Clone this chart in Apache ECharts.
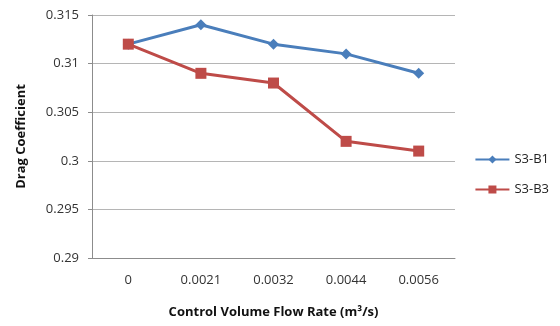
<!DOCTYPE html>
<html>
<head>
<meta charset="utf-8">
<script src="https://cdn.jsdelivr.net/npm/echarts@6/dist/echarts.min.js"></script>
<style>
html,body{margin:0;padding:0;background:#fff;}
#main{width:560px;height:326px;}
</style>
</head>
<body>
<div id="main"></div>
<script>
var flowRates = ['0', '0.0021', '0.0032', '0.0044', '0.0056'];
var s3b1 = [0.312, 0.314, 0.312, 0.311, 0.309];
var s3b3 = [0.312, 0.309, 0.308, 0.302, 0.301];

var font = 'Open Sans, Liberation Sans, sans-serif';

var option = {
	animation: false,
	backgroundColor: '#fff',
	grid: { left: 92, right: 105, top: 15, bottom: 68 },
	legend: {
		orient: 'vertical',
		right: 6,
		top: 148,
		itemGap: 17,
		itemWidth: 34,
		itemHeight: 10,
		textStyle: { fontFamily: font, fontSize: 13, color: '#222' },
		data: ['S3-B1', 'S3-B3']
	},
	xAxis: {
		type: 'category',
		data: flowRates,
		boundaryGap: true,
		name: 'Control Volume Flow Rate (m³/s)',
		nameLocation: 'middle',
		nameGap: 48,
		nameTextStyle: { fontFamily: font, fontSize: 13, fontWeight: 'bold', color: '#111' },
		axisLine: { lineStyle: { color: '#8c8c8c' } },
		axisTick: { show: false },
		axisLabel: { fontFamily: font, fontSize: 13, color: '#333', margin: 16 },
		splitLine: { show: false }
	},
	yAxis: {
		type: 'value',
		min: 0.29,
		max: 0.315,
		interval: 0.005,
		name: 'Drag Coefficient',
		nameLocation: 'middle',
		nameGap: 64,
		nameTextStyle: { fontFamily: font, fontSize: 13, fontWeight: 'bold', color: '#111' },
		axisLine: { show: true, lineStyle: { color: '#8c8c8c' } },
		axisTick: { show: true, length: 4, lineStyle: { color: '#8c8c8c' } },
		axisLabel: { fontFamily: font, fontSize: 13, color: '#333', margin: 13 },
		splitLine: { lineStyle: { color: '#b5b5b5' } }
	},
	series: [
		{
			name: 'S3-B1',
			type: 'line',
			data: s3b1,
			symbol: 'diamond',
			symbolSize: 11,
			lineStyle: { width: 3, color: '#4a7ebb' },
			itemStyle: { color: '#4a7ebb' }
		},
		{
			name: 'S3-B3',
			type: 'line',
			data: s3b3,
			symbol: 'rect',
			symbolSize: 11,
			lineStyle: { width: 3, color: '#be4b48' },
			itemStyle: { color: '#be4b48' }
		}
	]
};

var myChart = echarts.init(document.getElementById('main'));
myChart.setOption(option);
</script>
</body>
</html>
